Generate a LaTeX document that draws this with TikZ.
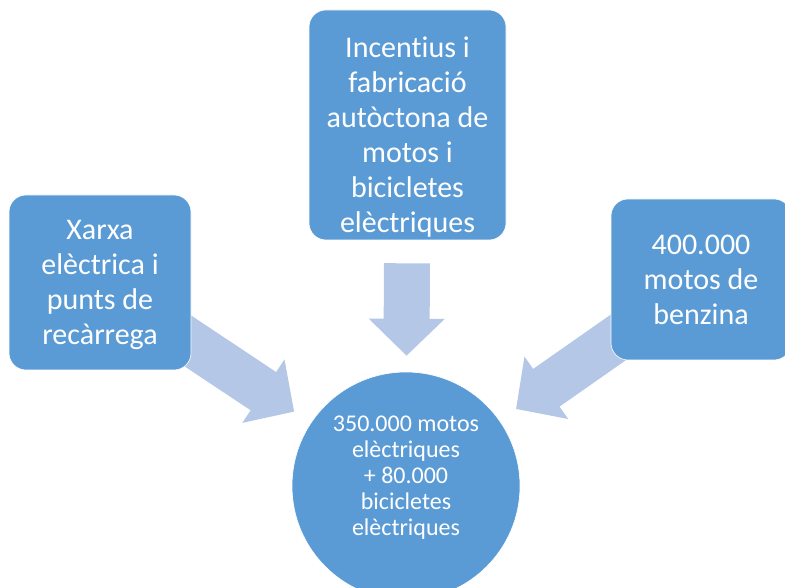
\documentclass[tikz,border=0pt]{standalone}
\usepackage{fontspec}
\setmainfont[Ligatures=NoCommon]{Carlito}
\usetikzlibrary{arrows.meta}
\usetikzlibrary{positioning}
\usetikzlibrary{backgrounds}
\definecolor{boxblue}{HTML}{5B9BD5}
\definecolor{arrowblue}{HTML}{B4C7E7}

\begin{document}
\begin{tikzpicture}[x=1pt,y=1pt]
				\tikzset{block/.style = {shape=rectangle, rounded corners=17pt, fill=boxblue, draw=white, semithick, text=white, align=center, inner sep=0pt, font=\fontsize{30}{35}\selectfont},
					hub/.style = {shape=circle, fill=boxblue, draw=white, semithick, text=white, align=center, inner sep=0pt, minimum size=228pt, font=\fontsize{24}{26}\selectfont},
					bigarrow/.style = {line width=46pt, draw=arrowblue, -{Triangle[width=74pt,length=37pt]}}}
				\useasboundingbox (0,0) rectangle (785,587);
				\node[block, minimum width=182pt, minimum height=175pt] (GRID) at (100,304.5)
				{\rule{0pt}{24pt}Xarxa\\elèctrica i\\punts de\\recàrrega};
				\node[block, minimum width=197pt, minimum height=230pt] (LOCAL) at (407.5,462)
				{\rule{0pt}{45pt}Incentius i\\fabricació\\autòctona de\\motos i\\bicicletes\\elèctriques};
				\node[block, minimum width=180pt, minimum height=161pt] (PETROL) at (701,307.5)
				{\rule{0pt}{21pt}400.000\\motos de\\benzina};
				\node[hub] (GOAL) at (406,101)
				{350.000 motos\\elèctriques\\+ 80.000\\bicicletes\\elèctriques\\[-6pt]\mbox{}};
				
				\begin{pgfonlayer}{background}
				\draw[bigarrow, shorten >=20pt] (GRID.center) -- (GOAL);
				\draw[bigarrow, shorten <=23pt, shorten >=16pt] (LOCAL) -- (GOAL);
				\draw[bigarrow, shorten >=20pt] (PETROL.center) -- (GOAL);
				\end{pgfonlayer}
				
				\end{tikzpicture}
\end{document}
